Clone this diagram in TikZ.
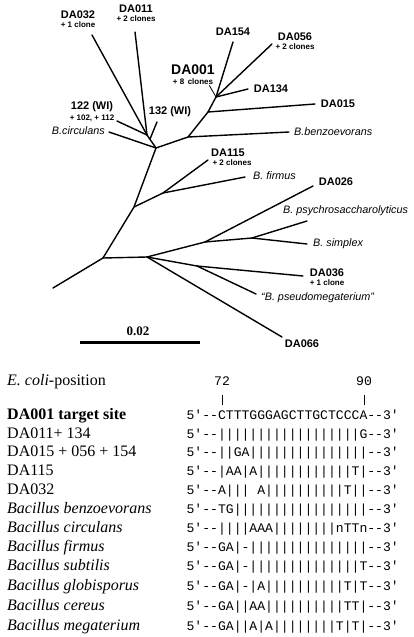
\documentclass[tikz,border=0pt]{standalone}
\usepackage{fontspec}
\setmainfont{Liberation Serif}
\setsansfont{Liberation Sans}
\setmonofont{Liberation Mono}
\usetikzlibrary{positioning}

\begin{document}
\begin{tikzpicture}[x=1pt, y=-1pt,
        branch/.style={line width=1.4pt, line cap=round},
        strain/.style={font=\fontsize{11}{12}\selectfont\sffamily\bfseries, inner sep=0pt},
        clones/.style={font=\fontsize{8}{9}\selectfont\sffamily\bfseries, inner sep=0pt},
        species/.style={font=\fontsize{10.8}{12}\selectfont\sffamily\itshape, inner sep=0pt},
        rowname/.style={font=\fontsize{16}{18}\selectfont, anchor=west, inner sep=0pt, text height=11pt, text depth=3.5pt},
        seq/.style={font=\fontsize{13.1}{15}\selectfont\ttfamily, anchor=west, inner sep=0pt, text height=9.5pt, text depth=2.5pt},
        tick/.style={line width=0.6pt}
    ]
    \useasboundingbox (0,0) rectangle (413,637);

    % inner points of the tree
    \coordinate (root) at (53,288);
    \coordinate (n1) at (103,258);
    \coordinate (nF) at (134,207);
    \coordinate (nG) at (163,193);
    \coordinate (nB) at (156,148);
    \coordinate (nA) at (147,135);
    \coordinate (nA2) at (150,139);
    \coordinate (nC) at (188,137);
    \coordinate (nD) at (208,112);
    \coordinate (nE) at (216,97);
    \coordinate (nI) at (147,257);
    \coordinate (nJ) at (205,242);
    \coordinate (nK) at (252,238);
    \coordinate (nL) at (197,266);

    % tips
    \coordinate (t032) at (92,35);
    \coordinate (t011) at (135,32);
    \coordinate (t122) at (117,121);
    \coordinate (t132) at (157,122);
    \coordinate (tcirc) at (109,132);
    \coordinate (tbenz) at (289,132);
    \coordinate (t015) at (315,104);
    \coordinate (t154) at (233,42);
    \coordinate (t056) at (272,44);
    \coordinate (t134) at (248,89);
    \coordinate (t115) at (208,160);
    \coordinate (tfirm) at (245,177);
    \coordinate (t026) at (313,186);
    \coordinate (tpsy) at (307,221);
    \coordinate (tsimp) at (307,244);
    \coordinate (t036) at (303,276);
    \coordinate (tpseudo) at (256,294);
    \coordinate (t066) at (282,337);

    % branches
    \draw[branch] (root) -- (n1) -- (nF) -- (nB) -- (nA);
    \draw[branch] (nA) -- (t032);
    \draw[branch] (nA) -- (t011);
    \draw[branch] (nA) -- (t122);
    \draw[branch] (nA2) -- (t132);
    \draw[branch] (nB) -- (tcirc);
    \draw[branch] (nB) -- (nC) -- (nD) -- (nE);
    \draw[branch] (nC) -- (tbenz);
    \draw[branch] (nD) -- (t015);
    \draw[branch] (nE) -- (t154);
    \draw[branch] (nE) -- (t056);
    \draw[branch] (nE) -- (t134);
    \draw[branch] (nF) -- (nG) -- (t115);
    \draw[branch] (nG) -- (tfirm);
    \draw[branch] (n1) -- (nI);
    \draw[branch] (nI) -- (nJ) -- (t026);
    \draw[branch] (nJ) -- (nK) -- (tpsy);
    \draw[branch] (nK) -- (tsimp);
    \draw[branch] (nI) -- (nL) -- (t036);
    \draw[branch] (nL) -- (tpseudo);
    \draw[branch] (nI) -- (t066);

    % tip labels
    \node[strain] (da032) at (78,15) {DA032};
    \node[clones, below=2pt of da032] {+ 1 clone};
    \node[strain] (da011) at (136,9) {DA011};
    \node[clones, below=2pt of da011] {+ 2 clones};
    \node[strain] (s122) at (92,107) {122 (WI)};
    \node[clones, below=2pt of s122] {+ 102, + 112};
    \node[strain] (s132) at (170,112) {132 (WI)};
    \node[species, anchor=east] (circ) at (105,131) {B.circulans};
    \node[strain, font=\fontsize{14}{16}\selectfont\sffamily\bfseries] (da001) at (193,70) {DA001};
    \node[clones, below=3pt of da001] (c001) {+ 8 \,clones};
    \draw[line width=0.8pt] ([xshift=-4pt,yshift=-1pt]c001.south east) -- (nE);
    \node[strain] (da154) at (233,32) {DA154};
    \node[strain] (da056) at (295,37) {DA056};
    \node[clones, below=2pt of da056] {+ 2 clones};
    \node[strain] (da134) at (271,89) {DA134};
    \node[strain] (da015) at (338,104) {DA015};
    \node[species, anchor=west] (benz) at (294,132) {B.benzoevorans};
    \node[strain] (da115) at (228,153) {DA115};
    \node[clones, below=2pt of da115, xshift=4pt] {+ 2 clones};
    \node[species, anchor=west] (firm) at (253,176) {B. firmus};
    \node[strain] (da026) at (336,182) {DA026};
    \node[species, anchor=west] (psy) at (283,211) {B. psychrosaccharolyticus};
    \node[species, anchor=west] (simp) at (313,244) {B. simplex};
    \node[strain] (da036) at (327,273) {DA036};
    \node[clones, below=2pt of da036] {+ 1 clone};
    \node[species, anchor=west] (pseudo) at (261,298) {``B. pseudomegaterium''};
    \node[strain] (da066) at (302,344) {DA066};

    % scale bar
    \node[font=\fontsize{13}{15}\selectfont\bfseries, inner sep=0pt] (scale) at (138,331) {0.02};
    \draw[line width=3pt] (80,342) -- (200,342);

    % alignment
    \node[rowname] (ecoli) at (7,382) {\textit{E. coli}-position};
    \node[seq, anchor=center] (p72) at (222,382) {72};
    \node[seq, anchor=center] (p90) at (364,382) {90};
    \draw[tick] (222,395) -- (222,405);
    \draw[tick] (364,395) -- (364,405);

    \node[rowname, font=\fontsize{16}{18}\selectfont\bfseries] (r1) at (7,416) {DA001 target site};
    \node[seq] (s1) at (186.4,416) {5'--CTTTGGGAGCTTGCTCCCA--3'};
    \node[rowname] (r2) at (7,435) {DA011+ 134};
    \node[seq] (s2) at (186.4,435) {5'--||||||||||||||||||G--3'};
    \node[rowname] (r3) at (7,453) {DA015 + 056 + 154};
    \node[seq] (s3) at (186.4,453) {5'--||GA|||||||||||||||--3'};
    \node[rowname] (r4) at (7,472) {DA115};
    \node[seq] (s4) at (186.4,472) {5'--|AA|A||||||||||||T|--3'};
    \node[rowname] (r5) at (7,491) {DA032};
    \node[seq] (s5) at (186.4,491) {5'--A|||~A||||||||||T||--3'};
    \node[rowname, font=\fontsize{16}{18}\selectfont\itshape] (r6) at (7,510) {Bacillus benzoevorans};
    \node[seq] (s6) at (186.4,510) {5'--TG|||||||||||||||||--3'};
    \node[rowname, font=\fontsize{16}{18}\selectfont\itshape] (r7) at (7,529) {Bacillus circulans};
    \node[seq] (s7) at (186.4,529) {5'--||||AAA||||||||nTTn--3'};
    \node[rowname, font=\fontsize{16}{18}\selectfont\itshape] (r8) at (7,548) {Bacillus firmus};
    \node[seq] (s8) at (186.4,548) {5'--GA|-|||||||||||||||--3'};
    \node[rowname, font=\fontsize{16}{18}\selectfont\itshape] (r9) at (7,567) {Bacillus subtilis};
    \node[seq] (s9) at (186.4,567) {5'--GA|-||||||||||||||T--3'};
    \node[rowname, font=\fontsize{16}{18}\selectfont\itshape] (r10) at (7,587) {Bacillus globisporus};
    \node[seq] (s10) at (186.4,587) {5'--GA|-|A||||||||||T|T--3'};
    \node[rowname, font=\fontsize{16}{18}\selectfont\itshape] (r11) at (7,607) {Bacillus cereus};
    \node[seq] (s11) at (186.4,607) {5'--GA||AA||||||||||TT|--3'};
    \node[rowname, font=\fontsize{16}{18}\selectfont\itshape] (r12) at (7,627) {Bacillus megaterium};
    \node[seq] (s12) at (186.4,627) {5'--GA||A|A||||||||T|T|--3'};

\end{tikzpicture}
\end{document}
